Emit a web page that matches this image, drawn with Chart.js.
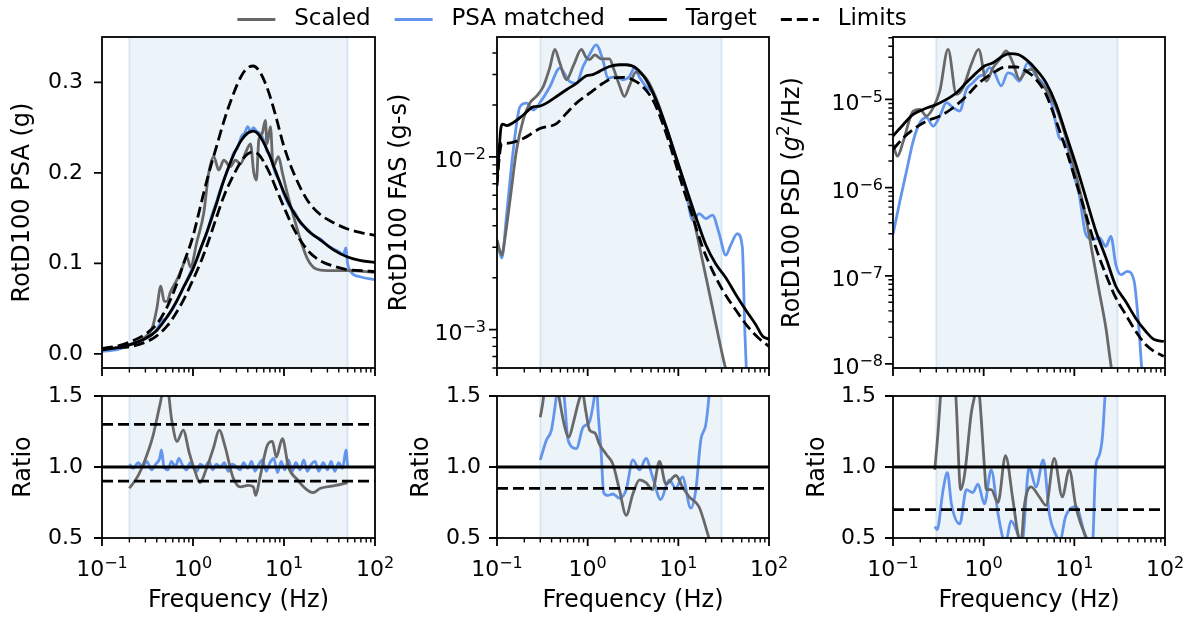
<!DOCTYPE html>
<html lang="en">
<head>
<meta charset="UTF-8">
<title>RotD100 spectra</title>
<script src="https://cdn.jsdelivr.net/npm/chart.js"></script>
<style>
  body { margin: 0; background: #fff; width: 1193px; height: 619px; overflow: hidden; position: relative; }
  canvas { position: absolute; }
</style>
</head>
<body>
<canvas id="legend" width="800" height="140" style="left:172px;top:-16px"></canvas>
<canvas id="psa" width="395" height="380" style="left:0px;top:0px"></canvas>
<canvas id="fas" width="410" height="380" style="left:380px;top:0px"></canvas>
<canvas id="psd" width="423" height="380" style="left:770px;top:0px"></canvas>
<canvas id="psaRatio" width="395" height="240" style="left:0px;top:380px"></canvas>
<canvas id="fasRatio" width="410" height="240" style="left:380px;top:380px"></canvas>
<canvas id="psdRatio" width="423" height="240" style="left:770px;top:380px"></canvas>

<script>
// ---- axes / ticks ----
const xRange = [0.1, 100];
const xTickValues = [0.1, 1, 10, 100];
const xTickExps = ['\u22121', '0', '1', '2'];
const xMinorTicks = [0.2, 0.3, 0.4, 0.5, 0.6, 0.7, 0.8, 0.9, 2, 3, 4, 5, 6, 7, 8, 9, 20, 30, 40, 50, 60, 70, 80, 90];

const psaYTicks = [0, 0.1, 0.2, 0.3];
const psaYLabels = ['0.0', '0.1', '0.2', '0.3'];
const fasYTicks = [0.001, 0.01];
const fasYExps = ['\u22123', '\u22122'];
const fasYMinor = [0.0006, 0.0007, 0.0008, 0.0009, 0.002, 0.003, 0.004, 0.005, 0.006, 0.007, 0.008, 0.009, 0.02, 0.03, 0.04];
const psdYTicks = [1e-8, 1e-7, 1e-6, 1e-5];
const psdYExps = ['\u22128', '\u22127', '\u22126', '\u22125'];
const psdYMinor = [2e-8, 3e-8, 4e-8, 5e-8, 6e-8, 7e-8, 8e-8, 9e-8, 2e-7, 3e-7, 4e-7, 5e-7, 6e-7, 7e-7, 8e-7, 9e-7,
                   2e-6, 3e-6, 4e-6, 5e-6, 6e-6, 7e-6, 8e-6, 9e-6, 2e-5, 3e-5, 4e-5, 5e-5];
const ratioYTicks = [0.5, 1.0, 1.5];
const ratioYLabels = ['0.5', '1.0', '1.5'];

// matching bands (Hz)
const psaBand = [0.2, 50];
const fasBand = [0.3, 30];
const psdBand = [0.3, 30];

// ---- PSA ----
const psaFreq = [0.1, 0.15, 0.2, 0.3, 0.4, 0.52, 0.65, 0.79, 1.0, 1.2, 1.45, 1.8, 2.2, 2.8, 3.4, 4.0, 4.6, 5.3, 6.0, 7.0, 8.0, 10, 13, 18, 25, 35, 50, 70, 100];
const psaTarget = [0.0045, 0.007, 0.010, 0.017, 0.026, 0.041, 0.057, 0.074, 0.094, 0.115, 0.137, 0.165, 0.193, 0.220, 0.236, 0.244, 0.246, 0.242, 0.233, 0.218, 0.203, 0.178, 0.155, 0.137, 0.126, 0.115, 0.107, 0.103, 0.101];
const psaUpper = [0.006, 0.009, 0.013, 0.022, 0.033, 0.052, 0.075, 0.100, 0.130, 0.162, 0.195, 0.228, 0.258, 0.288, 0.307, 0.316, 0.318, 0.313, 0.303, 0.285, 0.265, 0.229, 0.198, 0.170, 0.154, 0.145, 0.138, 0.134, 0.131];
const psaLower = [0.006, 0.007, 0.008, 0.013, 0.020, 0.031, 0.045, 0.060, 0.082, 0.100, 0.122, 0.150, 0.175, 0.198, 0.213, 0.221, 0.223, 0.220, 0.212, 0.199, 0.185, 0.162, 0.137, 0.115, 0.103, 0.097, 0.093, 0.092, 0.091];
const psaScaledFreq = [0.1, 0.2, 0.3, 0.36, 0.40, 0.443, 0.483, 0.52, 0.563, 0.667, 0.758, 0.86, 0.935, 1.11, 1.31, 1.49, 1.69, 1.92, 2.18, 2.58, 2.92, 3.33, 3.77, 4.28, 4.66, 4.98, 5.28, 5.74, 6.24, 6.5, 7.1, 7.6, 8.7, 9.6, 10.9, 12.9, 15.3, 18.1, 22.3, 30, 50, 100];
const psaScaled = [0.0045, 0.0105, 0.019, 0.03, 0.05, 0.075, 0.058, 0.058, 0.068, 0.082, 0.095, 0.107, 0.096, 0.125, 0.155, 0.200, 0.218, 0.203, 0.214, 0.207, 0.214, 0.210, 0.222, 0.232, 0.200, 0.192, 0.236, 0.243, 0.258, 0.232, 0.251, 0.207, 0.218, 0.200, 0.177, 0.150, 0.125, 0.105, 0.094, 0.092, 0.092, 0.090];
const psaMatchedFreq = [0.1, 0.15, 0.2, 0.25, 0.3, 0.35, 0.4, 0.45, 0.5, 0.6, 0.7, 0.8, 0.9, 1.0, 1.1, 1.25, 1.4, 1.6, 1.8, 2.0, 2.2, 2.5, 2.8, 3.1, 3.4, 3.7, 4.0, 4.3, 4.6, 5.0, 5.5, 6.0, 6.5, 7.0, 8.0, 9.0, 10, 11.5, 13, 15, 18, 21, 25, 30, 35, 40, 45, 48, 50, 55, 70, 100];
const psaMatched = [0.003, 0.005, 0.010, 0.013, 0.017, 0.021, 0.027, 0.036, 0.039, 0.050, 0.063, 0.075, 0.086, 0.096, 0.104, 0.120, 0.132, 0.152, 0.167, 0.182, 0.193, 0.207, 0.222, 0.228, 0.240, 0.244, 0.251, 0.245, 0.250, 0.246, 0.243, 0.236, 0.224, 0.220, 0.200, 0.190, 0.176, 0.163, 0.157, 0.145, 0.138, 0.131, 0.127, 0.120, 0.116, 0.113, 0.110, 0.117, 0.100, 0.090, 0.085, 0.082];

// ---- FAS ----
const fasTargetFreq = [0.1, 0.105, 0.11, 0.115, 0.128, 0.151, 0.195, 0.251, 0.297, 0.351, 0.453, 0.583, 0.751, 0.967, 1.14, 1.35, 1.74, 2.24, 2.65, 3.42, 4.41, 5.67, 7.31, 9.42, 12.1, 15.6, 20.1, 25.9, 33.4, 43, 55.4, 71.3, 84.6, 100];
const fasTarget = [0.0072, 0.0105, 0.0145, 0.0155, 0.0152, 0.0158, 0.0175, 0.0195, 0.0197, 0.0205, 0.0224, 0.0245, 0.0267, 0.0295, 0.0300, 0.0313, 0.0334, 0.0342, 0.0342, 0.0327, 0.0280, 0.0214, 0.0150, 0.0100, 0.0067, 0.0045, 0.0031, 0.0024, 0.0020, 0.0016, 0.0013, 0.00107, 0.00092, 0.00088];
const fasLowerFreq = [0.1, 0.105, 0.113, 0.128, 0.195, 0.297, 0.453, 0.583, 0.751, 1.05, 1.47, 1.89, 2.44, 3.14, 4.05, 5.23, 6.73, 8.68, 11.2, 14.4, 18.5, 23.8, 30.7, 43, 60.3, 77.6, 100];
const fasLower = [0.0068, 0.0095, 0.0120, 0.0120, 0.0128, 0.0146, 0.0156, 0.0179, 0.0205, 0.0234, 0.0267, 0.0286, 0.0289, 0.0280, 0.0255, 0.0214, 0.0156, 0.0104, 0.0067, 0.0045, 0.0030, 0.0022, 0.0017, 0.0013, 0.00102, 0.00089, 0.00080];
const fasScaledFreq = [0.1, 0.113, 0.117, 0.139, 0.164, 0.195, 0.23, 0.273, 0.323, 0.383, 0.434, 0.493, 0.583, 0.7, 0.853, 0.95, 1.05, 1.2, 1.4, 1.74, 1.95, 2.24, 2.54, 2.9, 3.4, 4.41, 5.67, 7.31, 9.42, 13.2, 18.5, 23.8, 30.7, 36];
const fasScaled = [0.0033, 0.0027, 0.0029, 0.0056, 0.0109, 0.0165, 0.0205, 0.0225, 0.0255, 0.033, 0.042, 0.035, 0.028, 0.034, 0.042, 0.038, 0.0366, 0.039, 0.037, 0.037, 0.032, 0.026, 0.0224, 0.026, 0.031, 0.0285, 0.022, 0.015, 0.0098, 0.0056, 0.0025, 0.00134, 0.00071, 0.0005];
const fasMatchedFreq = [0.1, 0.113, 0.128, 0.151, 0.179, 0.212, 0.251, 0.31, 0.383, 0.493, 0.635, 0.751, 0.89, 1.05, 1.24, 1.47, 1.67, 2.06, 2.44, 2.88, 3.28, 3.72, 4.41, 5.23, 6.18, 7.31, 9.42, 12.1, 14.4, 17.0, 20.1, 23.8, 28.2, 33.4, 37.9, 44.8, 50.8, 54.3, 58];
const fasMatched = [0.0033, 0.0026, 0.0047, 0.0109, 0.0195, 0.0205, 0.0187, 0.0213, 0.0255, 0.0327, 0.0273, 0.0267, 0.0334, 0.0392, 0.0446, 0.0365, 0.0286, 0.0292, 0.028, 0.0292, 0.0327, 0.029, 0.0255, 0.0235, 0.0187, 0.0149, 0.0100, 0.0064, 0.0043, 0.0047, 0.0044, 0.0046, 0.0036, 0.0027, 0.0031, 0.0036, 0.0030, 0.00094, 0.0004];

// ---- PSD ----
const psdTargetFreq = [0.1, 0.13, 0.167, 0.215, 0.302, 0.389, 0.5, 0.645, 0.83, 1.02, 1.27, 1.63, 1.93, 2.38, 2.93, 3.78, 4.87, 6.3, 8.1, 10.4, 13.4, 17.3, 22.3, 28.7, 36.9, 47.5, 61.2, 75.9, 97];
const psdTarget = [3.84e-6, 5.2e-6, 6.76e-6, 7.7e-6, 8.77e-6, 1.0e-5, 1.19e-5, 1.55e-5, 2.0e-5, 2.39e-5, 2.6e-5, 3.1e-5, 3.3e-5, 3.24e-5, 2.84e-5, 2.19e-5, 1.55e-5, 8.77e-6, 4.0e-6, 1.83e-6, 7.66e-7, 3.2e-7, 1.6e-7, 7.6e-8, 5.1e-8, 3.3e-8, 2.35e-8, 1.89e-8, 1.8e-8];
const psdLowerFreq = [0.1, 0.13, 0.167, 0.234, 0.328, 0.46, 0.645, 0.9, 1.27, 1.77, 2.28, 2.93, 3.78, 4.87, 6.3, 8.1, 10.4, 13.4, 17.3, 22.3, 28.7, 36.9, 47.5, 61.2, 75.9, 97];
const psdLower = [2.7e-6, 3.67e-6, 4.57e-6, 5.68e-6, 6.47e-6, 8.04e-6, 1.09e-5, 1.55e-5, 2.0e-5, 2.33e-5, 2.33e-5, 2.1e-5, 1.69e-5, 1.14e-5, 5.68e-6, 2.7e-6, 1.18e-6, 4.95e-7, 2.07e-7, 1.03e-7, 5.6e-8, 3.63e-8, 2.35e-8, 1.66e-8, 1.39e-8, 1.22e-8];
const psdScaledFreq = [0.1, 0.112, 0.13, 0.167, 0.198, 0.234, 0.277, 0.328, 0.405, 0.5, 0.592, 0.731, 0.88, 1.07, 1.27, 1.5, 1.77, 2.1, 2.48, 2.93, 3.48, 4.11, 4.87, 6.3, 8.1, 10.4, 13.4, 15.9, 18.8, 22.3, 25.3, 28];
const psdScaled = [3.08e-6, 2.27e-6, 3.37e-6, 7.38e-6, 7.7e-6, 6.47e-6, 8.04e-6, 1.24e-5, 3.69e-5, 1.14e-5, 1.36e-5, 2.5e-5, 3.69e-5, 1.61e-5, 2.29e-5, 2.84e-5, 3.54e-5, 2.6e-5, 1.69e-5, 2.1e-5, 2.19e-5, 1.61e-5, 1.3e-5, 8.04e-6, 3.67e-6, 1.41e-6, 4.54e-7, 1.74e-7, 6.67e-8, 2.56e-8, 9.8e-9, 5e-9];
const psdMatchedFreq = [0.1, 0.119, 0.141, 0.167, 0.198, 0.234, 0.277, 0.328, 0.389, 0.46, 0.544, 0.645, 0.763, 0.9, 1.02, 1.16, 1.32, 1.56, 1.85, 2.1, 2.48, 3.06, 3.78, 4.87, 5.77, 6.84, 8.1, 9.6, 11.3, 13.4, 15.9, 18.8, 22.3, 25.3, 28.7, 32.6, 38.5, 45.6, 50.8, 55.3, 57.5];
const psdMatched = [2.94e-7, 7.0e-7, 1.54e-6, 3.37e-6, 5.43e-6, 6.2e-6, 4.98e-6, 6.47e-6, 9.17e-6, 8.04e-6, 7.38e-6, 1.3e-5, 1.55e-5, 1.84e-5, 1.92e-5, 2.29e-5, 2.0e-5, 1.42e-5, 2.0e-5, 1.92e-5, 1.61e-5, 2.6e-5, 1.84e-5, 1.36e-5, 8.04e-6, 3.67e-6, 3.22e-6, 1.54e-6, 8.35e-7, 2.94e-7, 2.58e-7, 2.7e-7, 2.16e-7, 2.8e-7, 1.34e-7, 1.03e-7, 1.12e-7, 8.7e-8, 3.05e-8, 9e-9, 5e-9];

// ---- ratios ----
const ratioUnity = 1.0;
const psaRatioLimits = [1.3, 0.9];
const fasRatioLimits = [0.85];
const psdRatioLimits = [0.7];

const psaRatioScaledFreq = [0.2, 0.245, 0.297, 0.36, 0.437, 0.48, 0.52, 0.584, 0.668, 0.78, 0.91, 1.04, 1.19, 1.39, 1.69, 1.94, 2.26, 2.74, 3.32, 4.03, 4.6, 4.89, 5.38, 6.53, 7.46, 8.22, 9.6, 11.2, 14.1, 17.1, 20.8, 25.2, 37, 50];
const psaRatioScaled = [0.85, 0.93, 1.05, 1.21, 1.45, 1.56, 1.56, 1.33, 1.18, 1.26, 1.10, 0.98, 0.89, 0.98, 1.14, 1.26, 1.14, 0.93, 0.86, 0.87, 0.86, 0.80, 0.91, 1.15, 1.18, 1.07, 1.20, 1.00, 0.91, 0.85, 0.82, 0.85, 0.87, 0.89];
const psaRatioMatchedFreq = [0.2, 0.22, 0.25, 0.28, 0.31, 0.35, 0.39, 0.43, 0.45, 0.48, 0.53, 0.58, 0.64, 0.7, 0.77, 0.85, 0.93, 1.0, 1.1, 1.2, 1.35, 1.5, 1.65, 1.8, 2.0, 2.2, 2.45, 2.7, 3.0, 3.3, 3.6, 4.0, 4.4, 4.8, 5.3, 5.8, 6.4, 7.0, 7.7, 8.5, 9.3, 10.2, 11.2, 12.3, 13.5, 15, 16.5, 18, 20, 22, 24, 27, 30, 33, 36, 40, 44, 48, 50];
const psaRatioMatched = [1.02, 0.99, 1.03, 1.00, 1.04, 0.98, 1.02, 1.06, 1.12, 1.00, 0.98, 1.04, 1.00, 1.06, 1.01, 0.98, 1.03, 1.00, 0.97, 1.02, 1.00, 1.04, 0.98, 1.02, 1.00, 1.03, 0.97, 1.02, 1.00, 0.98, 1.03, 0.99, 1.04, 0.97, 1.02, 1.05, 0.97, 1.03, 1.06, 0.96, 1.04, 0.98, 1.05, 0.97, 1.03, 0.98, 1.05, 0.97, 1.02, 1.04, 0.97, 1.03, 0.98, 1.04, 0.97, 1.03, 0.99, 1.12, 1.00];

const fasRatioScaledFreq = [0.3, 0.323, 0.34, 0.4, 0.45, 0.49, 0.55, 0.62, 0.7, 0.82, 0.88, 0.95, 1.05, 1.2, 1.35, 1.6, 1.9, 2.24, 2.66, 3.15, 3.73, 4.4, 5.2, 6.2, 7.3, 9.4, 11.1, 13.2, 16.9, 21.8, 24];
const fasRatioScaled = [1.35, 1.47, 1.6, 1.75, 1.6, 1.47, 1.3, 1.21, 1.32, 1.49, 1.52, 1.4, 1.26, 1.24, 1.16, 1.09, 1.02, 0.84, 0.66, 0.81, 0.91, 0.89, 0.84, 1.04, 0.88, 0.94, 0.86, 0.79, 0.72, 0.5, 0.42];
const fasRatioMatchedFreq = [0.3, 0.351, 0.398, 0.452, 0.49, 0.55, 0.608, 0.75, 0.89, 1.05, 1.19, 1.25, 1.3, 1.41, 1.5, 1.67, 1.9, 2.24, 2.66, 3.15, 3.73, 4.4, 5.2, 6.4, 7.9, 9.4, 11.1, 13.7, 15.6, 17.7, 20.1, 21.8, 23];
const fasRatioMatched = [1.05, 1.19, 1.26, 1.5, 1.7, 1.5, 1.19, 1.13, 1.28, 1.32, 1.5, 1.6, 1.4, 1.1, 0.82, 0.8, 0.81, 0.78, 0.84, 1.05, 0.98, 1.06, 0.93, 0.77, 0.91, 0.85, 0.93, 0.71, 0.84, 1.19, 1.3, 1.5, 1.7];

const psdRatioScaledFreq = [0.289, 0.315, 0.334, 0.36, 0.42, 0.493, 0.558, 0.617, 0.73, 0.795, 0.85, 0.9, 1.02, 1.07, 1.21, 1.44, 1.74, 2.1, 2.44, 2.6, 2.8, 3.33, 4.11, 4.87, 6.0, 7.36, 8.8, 10.4, 11.8, 13.6, 14.5];
const psdRatioScaled = [0.98, 1.26, 1.5, 1.8, 1.9, 1.5, 0.84, 0.95, 1.38, 1.5, 1.6, 1.5, 1.0, 0.84, 0.84, 0.75, 1.08, 0.77, 0.5, 0.48, 0.72, 0.86, 0.79, 0.73, 1.06, 0.79, 0.98, 0.72, 0.6, 0.5, 0.45];
const psdRatioMatchedFreq = [0.289, 0.307, 0.357, 0.398, 0.441, 0.545, 0.645, 0.76, 0.865, 1.02, 1.21, 1.44, 1.63, 1.75, 2.0, 2.49, 2.65, 3.17, 3.78, 4.55, 5.3, 6.5, 6.9, 8.0, 10.4, 13.4, 15.8, 17.2, 18.8, 20.4, 21.8, 23];
const psdRatioMatched = [0.58, 0.56, 0.84, 0.96, 0.74, 0.6, 0.84, 0.82, 0.88, 0.74, 0.98, 0.67, 0.5, 0.47, 0.62, 0.5, 0.47, 1.0, 0.86, 1.05, 0.67, 0.5, 0.47, 0.65, 0.72, 0.5, 0.45, 1.0, 1.08, 1.21, 1.5, 1.7];

// ---- styles ----
const gray = '#686868';
const blue = '#6495ED';
const black = '#000000';
const dashed = [11, 5];
const fontFamily = '"DejaVu Sans", sans-serif';
const tickSize = 22;

Chart.defaults.font.family = fontFamily;
Chart.defaults.font.size = 24;
Chart.defaults.color = '#000';

function lineSet(xs, ys, color, dash) {
  return {
    data: xs.map((x, i) => ({ x: x, y: ys[i] })),
    borderColor: color,
    borderWidth: 2.8,
    borderDash: dash || [],
    pointRadius: 0,
    cubicInterpolationMode: 'monotone',
    fill: false
  };
}

function hLine(v, dash) {
  return lineSet(xRange, [v, v], black, dash);
}

// "10" with a raised exponent, like matplotlib's log tick labels
function drawPow(ctx, exp, x, baseY, align) {
  const big = tickSize + 'px ' + fontFamily;
  const small = Math.round(tickSize * 0.72) + 'px ' + fontFamily;
  ctx.font = big;
  const wb = ctx.measureText('10').width;
  ctx.font = small;
  const ws = ctx.measureText(exp).width;
  const left = align === 'center' ? x - (wb + ws) / 2 : x - wb - ws;
  ctx.textAlign = 'left';
  ctx.textBaseline = 'alphabetic';
  ctx.font = big;
  ctx.fillText('10', left, baseY);
  ctx.font = small;
  ctx.fillText(exp, left + wb, baseY - 8);
}

// shaded frequency band behind the curves
const bandShade = {
  id: 'bandShade',
  beforeDatasetsDraw(chart, args, opts) {
    if (!opts.range) return;
    const { ctx, chartArea: a, scales: { x } } = chart;
    const x0 = x.getPixelForValue(opts.range[0]);
    const x1 = x.getPixelForValue(opts.range[1]);
    ctx.save();
    ctx.fillStyle = 'rgba(31,119,180,0.085)';
    ctx.fillRect(x0, a.top, x1 - x0, a.bottom - a.top);
    ctx.strokeStyle = 'rgba(31,119,180,0.13)';
    ctx.lineWidth = 2;
    ctx.beginPath();
    ctx.moveTo(x0, a.top); ctx.lineTo(x0, a.bottom);
    ctx.moveTo(x1, a.top); ctx.lineTo(x1, a.bottom);
    ctx.stroke();
    ctx.restore();
  }
};

// box, outward tick marks and power-of-ten labels
const frameTicks = {
  id: 'frameTicks',
  afterDraw(chart, args, opts) {
    const { ctx, chartArea: a, scales: { x, y } } = chart;
    ctx.save();
    ctx.strokeStyle = '#000';
    ctx.lineWidth = 1.8;
    ctx.strokeRect(a.left, a.top, a.right - a.left, a.bottom - a.top);
    const mark = (vals, len, width, horizontal) => {
      ctx.lineWidth = width;
      ctx.beginPath();
      vals.forEach(v => {
        if (horizontal) {
          const p = x.getPixelForValue(v);
          ctx.moveTo(p, a.bottom); ctx.lineTo(p, a.bottom + len);
        } else {
          const p = y.getPixelForValue(v);
          ctx.moveTo(a.left, p); ctx.lineTo(a.left - len, p);
        }
      });
      ctx.stroke();
    };
    mark(xTickValues, 8, 1.8, true);
    mark(xMinorTicks, 4.6, 1.4, true);
    mark(opts.yMajor || [], 8, 1.8, false);
    mark(opts.yMinor || [], 4.6, 1.4, false);

    ctx.fillStyle = '#000';
    if (opts.xExps) {
      xTickValues.forEach((v, i) => drawPow(ctx, opts.xExps[i], x.getPixelForValue(v), a.bottom + 38, 'center'));
    }
    if (opts.yExps) {
      opts.yMajor.forEach((v, i) => drawPow(ctx, opts.yExps[i], a.left - opts.yGap, y.getPixelForValue(v) + 10.5, 'right'));
    }
    ctx.restore();
  }
};

Chart.register(bandShade, frameTicks);

// y label with italic g and superscript for the PSD panel
const psdTitle = {
  id: 'psdTitle',
  afterDraw(chart) {
    const { ctx, chartArea: a } = chart;
    const size = 24;
    const parts = [
      { t: 'RotD100 PSD (', f: size + 'px ' + fontFamily, dy: 0 },
      { t: 'g', f: 'italic ' + size + 'px ' + fontFamily, dy: 0 },
      { t: '2', f: Math.round(size * 0.7) + 'px ' + fontFamily, dy: -0.36 * size },
      { t: '/Hz)', f: size + 'px ' + fontFamily, dy: 0 }
    ];
    ctx.save();
    ctx.translate(23, (a.top + a.bottom) / 2);
    ctx.rotate(-Math.PI / 2);
    ctx.textBaseline = 'middle';
    ctx.fillStyle = '#000';
    let total = 0;
    parts.forEach(p => { ctx.font = p.f; p.w = ctx.measureText(p.t).width; total += p.w; });
    let pos = -total / 2;
    parts.forEach(p => { ctx.font = p.f; ctx.fillText(p.t, pos, p.dy); pos += p.w; });
    ctx.restore();
  }
};

function makePanel(id, o) {
  const yPow = !!o.yExps;
  return new Chart(document.getElementById(id), {
    type: 'line',
    data: { datasets: o.sets },
    options: {
      responsive: false,
      animation: false,
      devicePixelRatio: 1,
      layout: { padding: { top: o.padTop, right: o.padRight, left: 0, bottom: 0 } },
      scales: {
        x: {
          type: 'logarithmic', min: xRange[0], max: xRange[1], bounds: 'data',
          grid: { display: false, drawTicks: false }, border: { display: false },
          afterBuildTicks: s => { s.ticks = xTickValues.map(v => ({ value: v })); },
          afterFit: s => { s.height = o.xHeight; s.paddingLeft = 0; s.paddingRight = 0; },
          ticks: { display: false },
          title: { display: o.xLabels, text: 'Frequency (Hz)', padding: { top: 0, bottom: 5 } }
        },
        y: {
          type: o.yType, min: o.yMin, max: o.yMax, bounds: 'data',
          grid: { display: false, drawTicks: false }, border: { display: false },
          afterBuildTicks: s => { s.ticks = o.yTicks.map(v => ({ value: v })); },
          afterFit: s => { s.width = o.yWidth; s.paddingTop = 0; s.paddingBottom = 0; },
          ticks: { display: !yPow, autoSkip: false, padding: o.yPad || 0, font: { size: tickSize },
                   callback: (v, i) => (o.yLabels ? o.yLabels[i] : '') },
          title: { display: !!o.yTitle, text: o.yTitle || '', padding: { top: o.titlePad || 0, bottom: 0 } }
        }
      },
      plugins: {
        legend: { display: false },
        tooltip: { enabled: false },
        bandShade: { range: o.band },
        frameTicks: { yMajor: o.yTicks, yMinor: o.yMinor || [], xExps: o.xLabels ? xTickExps : null,
                      yExps: o.yExps || null, yGap: o.yGap || 10 }
      }
    },
    plugins: o.extra || []
  });
}

// top row
makePanel('psa', {
  sets: [
    lineSet(psaFreq, psaTarget, black),
    lineSet(psaFreq, psaUpper, black, dashed),
    lineSet(psaFreq, psaLower, black, dashed),
    lineSet(psaScaledFreq, psaScaled, gray),
    lineSet(psaMatchedFreq, psaMatched, blue)
  ],
  yType: 'linear', yMin: -0.0155, yMax: 0.35, yTicks: psaYTicks, yLabels: psaYLabels,
  band: psaBand, padTop: 37, padRight: 20, xHeight: 12, xLabels: false,
  yWidth: 102, yPad: 19, yTitle: 'RotD100 PSA (g)', titlePad: 8
});

makePanel('fas', {
  sets: [
    lineSet(fasTargetFreq, fasTarget, black),
    lineSet(fasLowerFreq, fasLower, black, dashed),
    lineSet(fasScaledFreq, fasScaled, gray),
    lineSet(fasMatchedFreq, fasMatched, blue)
  ],
  yType: 'logarithmic', yMin: 6e-4, yMax: 0.0495, yTicks: fasYTicks, yExps: fasYExps, yMinor: fasYMinor, yGap: 11,
  band: fasBand, padTop: 37, padRight: 21, xHeight: 12, xLabels: false,
  yWidth: 117, yTitle: 'RotD100 FAS (g-s)', titlePad: 5
});

makePanel('psd', {
  sets: [
    lineSet(psdTargetFreq, psdTarget, black),
    lineSet(psdLowerFreq, psdLower, black, dashed),
    lineSet(psdScaledFreq, psdScaled, gray),
    lineSet(psdMatchedFreq, psdMatched, blue)
  ],
  yType: 'logarithmic', yMin: 9e-9, yMax: 5.1e-5, yTicks: psdYTicks, yExps: psdYExps, yMinor: psdYMinor, yGap: 10,
  band: psdBand, padTop: 37, padRight: 28, xHeight: 12, xLabels: false,
  yWidth: 123, extra: [psdTitle]
});

// bottom row
makePanel('psaRatio', {
  sets: [
    hLine(ratioUnity),
    ...psaRatioLimits.map(v => hLine(v, dashed)),
    lineSet(psaRatioScaledFreq, psaRatioScaled, gray),
    lineSet(psaRatioMatchedFreq, psaRatioMatched, blue)
  ],
  yType: 'linear', yMin: 0.5, yMax: 1.5, yTicks: ratioYTicks, yLabels: ratioYLabels,
  band: psaBand, padTop: 16, padRight: 20, xHeight: 82, xLabels: true,
  yWidth: 102, yPad: 19, yTitle: 'Ratio', titlePad: 9
});

makePanel('fasRatio', {
  sets: [
    hLine(ratioUnity),
    ...fasRatioLimits.map(v => hLine(v, dashed)),
    lineSet(fasRatioScaledFreq, fasRatioScaled, gray),
    lineSet(fasRatioMatchedFreq, fasRatioMatched, blue)
  ],
  yType: 'linear', yMin: 0.5, yMax: 1.5, yTicks: ratioYTicks, yLabels: ratioYLabels,
  band: fasBand, padTop: 16, padRight: 21, xHeight: 82, xLabels: true,
  yWidth: 117, yPad: 16, yTitle: 'Ratio', titlePad: 27
});

makePanel('psdRatio', {
  sets: [
    hLine(ratioUnity),
    ...psdRatioLimits.map(v => hLine(v, dashed)),
    lineSet(psdRatioScaledFreq, psdRatioScaled, gray),
    lineSet(psdRatioMatchedFreq, psdRatioMatched, blue)
  ],
  yType: 'linear', yMin: 0.5, yMax: 1.5, yTicks: ratioYTicks, yLabels: ratioYLabels,
  band: psdBand, padTop: 16, padRight: 28, xHeight: 82, xLabels: true,
  yWidth: 123, yPad: 17, yTitle: 'Ratio', titlePad: 33
});

// shared legend across the top
new Chart(document.getElementById('legend'), {
  type: 'line',
  data: {
    datasets: [
      { label: ' Scaled', data: [], borderColor: gray, borderWidth: 2.8 },
      { label: ' PSA matched', data: [], borderColor: blue, borderWidth: 2.8 },
      { label: ' Target', data: [], borderColor: black, borderWidth: 2.8 },
      { label: ' Limits', data: [], borderColor: black, borderWidth: 2.8, borderDash: dashed }
    ]
  },
  options: {
    responsive: false,
    animation: false,
    devicePixelRatio: 1,
    scales: { x: { display: false }, y: { display: false } },
    plugins: {
      legend: {
        display: true, position: 'top',
        labels: {
          usePointStyle: true, pointStyle: 'line', pointStyleWidth: 38, padding: 24, color: '#000',
          font: { family: fontFamily, size: 23 },
          generateLabels: chart => Chart.defaults.plugins.legend.labels.generateLabels(chart).map((item, i) => {
            const ds = chart.data.datasets[i];
            item.lineDash = ds.borderDash || [];
            item.strokeStyle = ds.borderColor;
            item.lineWidth = ds.borderWidth;
            return item;
          })
        }
      },
      tooltip: { enabled: false },
      bandShade: false,
      frameTicks: false
    }
  }
});
</script>
</body>
</html>
